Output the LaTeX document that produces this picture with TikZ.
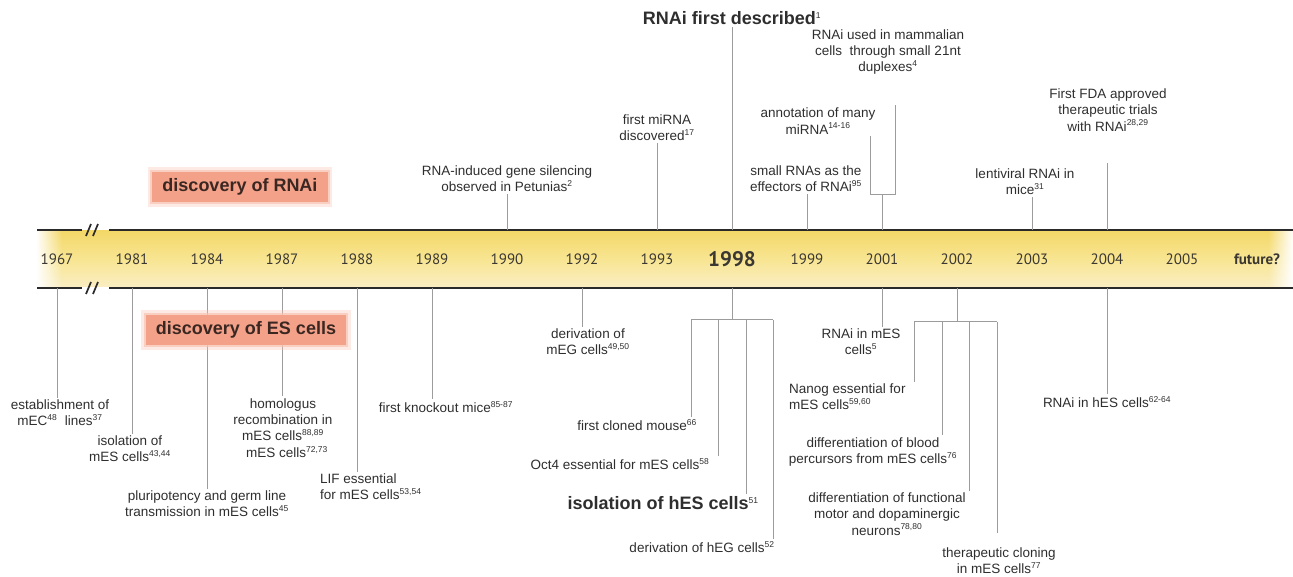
\documentclass[tikz,border=0pt]{standalone}
\usepackage{fontspec}
\setsansfont{Liberation Sans}
\renewcommand{\familydefault}{\sfdefault}
\newfontfamily\yearfam{PT Sans}
\usetikzlibrary{fadings}

\definecolor{evtext}{HTML}{2E2E2E}
\definecolor{yeartext}{HTML}{3B3833}
\definecolor{twig}{HTML}{9C9C9C}
\definecolor{rail}{HTML}{2A2A2A}
\definecolor{bandtop}{HTML}{F3D868}
\definecolor{bandmid}{HTML}{F8E592}
\definecolor{bandbot}{HTML}{FAEEC2}
\definecolor{glowcore}{HTML}{F3A189}
\definecolor{glowedge}{HTML}{F8C4B3}
\definecolor{glowtext}{HTML}{3A2722}

% small reference numbers
\newcommand{\refs}[1]{\textsuperscript{\mdseries\fontsize{8.5}{9}\selectfont #1}}

\tikzfading[name=fadeout right, left color=transparent!0, right color=transparent!100]
\tikzfading[name=fadeout left, left color=transparent!100, right color=transparent!0]

\tikzset{
  event/.style    = {font=\fontsize{13.5}{16.3}\selectfont, text=evtext,
                     align=center, inner sep=2pt},
  headline/.style = {font=\fontsize{18}{21}\selectfont\bfseries, text=evtext,
                     inner sep=2pt},
  year/.style     = {font=\yearfam\fontsize{15}{18}\selectfont, text=yeartext},
  bigyear/.style  = {font=\yearfam\fontsize{21}{24}\selectfont\bfseries,
                     text=yeartext},
  twig/.style     = {draw=twig, line width=1pt},
  rail/.style     = {draw=rail, line width=1.7pt},
  glowbox/.style  = {headline, text=glowtext, fill=glowcore,
                     inner xsep=10pt, inner ysep=7pt,
                     preaction={draw=glowedge, line width=9pt, opacity=.35},
                     preaction={draw=glowedge, line width=4pt, opacity=.7}}
}

\begin{document}
\begin{tikzpicture}[x=1pt,y=-1pt]
\useasboundingbox (0,0) rectangle (1293,577);

% the yellow band with its two rails
\shade[top color=bandtop, bottom color=bandbot, middle color=bandmid]
  (37,231) rectangle (1293,287);
\fill[white, path fading=fadeout right] (36,231) rectangle (62,287);
\fill[white, path fading=fadeout left] (1268,231) rectangle (1293,287);
\draw[rail] (37,230) -- (82,230);
\draw[rail] (109,230) -- (1293,230);
\draw[rail] (37,288) -- (82,288);
\draw[rail] (109,288) -- (1293,288);
\draw[rail] (86,236) -- (91,224) (93,236) -- (98,224);
\draw[rail] (86,294) -- (91,282) (93,294) -- (98,282);

% years, with a coordinate on each rail
\foreach \yr [count=\i from 0] in {1967,1981,1984,1987,1988,1989,1990,1992,
                                    1993,1998,1999,2001,2002,2003,2004,2005} {
  \coordinate (top\yr) at (57+75*\i,230);
  \coordinate (bot\yr) at (57+75*\i,288);
  \ifnum\yr=1998
    \node[bigyear] (y\yr) at (57+75*\i,259) {\yr};
  \else
    \node[year] (y\yr) at (57+75*\i,259) {\yr};
  \fi
}
\node[year, font=\yearfam\fontsize{15}{18}\selectfont\bfseries] (yfut) at (1257,259) {future?};

% RNAi events above the band
\node[event] (ev1990) at (507,179) {RNA-induced gene silencing\\observed in Petunias\refs{2}};
\node[event] (ev1993) at (657,128) {first miRNA\\discovered\refs{17}};
\node[headline] (ev1998) at (732,18) {RNAi first described\refs{1}};
\node[event] (ev1999) at (806,179) {small RNAs as the\\effectors of RNAi\refs{95}};
\node[event] (ev2001a) at (818,121) {annotation of many\\miRNA\refs{14-16}};
\node[event] (ev2001b) at (888,52) {RNAi used in mammalian\\cells\ \ through small 21nt\\duplexes\refs{4}};
\node[event] (ev2003) at (1025,182) {lentiviral RNAi in\\mice\refs{31}};
\node[event] (ev2004) at (1108,110) {First FDA approved\\therapeutic trials\\with RNAi\refs{28,29}};

\draw[twig] (top1990) -- (top1990 |- ev1990.south);
\draw[twig] (top1993) -- (top1993 |- ev1993.south);
\draw[twig] (top1998) -- (top1998 |- ev1998.south);
\draw[twig] (top1999) -- (top1999 |- ev1999.south);
\draw[twig] (top2003) -- (top2003 |- ev2003.south);
\coordinate (e2004) at (1107,163);
\draw[twig] (top2004) -- (e2004);

% 2001 fork
\coordinate (k2001)  at (882,195);
\coordinate (k2001l) at (870,195);
\coordinate (k2001r) at (895,195);
\coordinate (e2001r) at (895,105);
\draw[twig] (top2001) -- (k2001);
\draw[twig] (k2001l |- ev2001a.south) -- (k2001l) -- (k2001r) -- (e2001r);

% ES cell events below the band
\node[event] (ev1967) at (60,413) {establishment of\\mEC\refs{48}\ \ lines\refs{37}};
\node[event] (ev1981) at (130,449) {isolation of\\mES cells\refs{43,44}};
\node[event] (ev1984) at (207,504) {pluripotency and germ line\\transmission in mES cells\refs{45}};
\node[event] (ev1987) at (283,428) {homologus\\recombination in\\mES cells\refs{88,89}\\\hspace*{8pt}mES cells\refs{72,73}};
\node[event, align=left, anchor=west] (ev1988) at (318,487) {LIF essential\\for mES cells\refs{53,54}};
\node[event] (ev1989) at (446,407) {first knockout mice\refs{85-87}};
\node[event] (ev1992) at (588,342) {derivation of\\mEG cells\refs{49,50}};
\node[event] (ev1998a) at (637,425) {first cloned mouse\refs{66}};
\node[event] (ev1998b) at (620,464) {Oct4 essential for mES cells\refs{58}};
\node[headline] (ev1998c) at (663,503) {isolation of hES cells\refs{51}};
\node[event] (ev1998d) at (702,547) {derivation of hEG cells\refs{52}};
\node[event] (ev2001) at (861,342) {RNAi in mES\\cells\refs{5}};
\node[event, align=left, anchor=west] (ev2002a) at (787,397) {Nanog essential for\\mES cells\refs{59,60}};
\node[event] (ev2002b) at (873,452) {differentiation of blood\\percursors from mES cells\refs{76}};
\node[event] (ev2002c) at (887,514) {differentiation of functional\\motor and dopaminergic\\neurons\refs{78,80}};
\node[event] (ev2002d) at (999,561) {therapeutic cloning\\in mES cells\refs{77}};
\node[event] (ev2004b) at (1107,402) {RNAi in hES cells\refs{62-64}};

\draw[twig] (bot1967) -- (bot1967 |- ev1967.north);
\draw[twig] (bot1981) -- (bot1981 |- ev1981.north);
\draw[twig] (bot1984) -- (bot1984 |- ev1984.north);
\draw[twig] (bot1987) -- (bot1987 |- ev1987.north);
\draw[twig] (bot1988) -- (bot1988 |- ev1988.north);
\draw[twig] (bot1989) -- (bot1989 |- ev1989.north);
\draw[twig] (bot1992) -- (bot1992 |- ev1992.north);
\draw[twig] (bot2001) -- (bot2001 |- ev2001.north);
\draw[twig] (bot2004) -- (bot2004 |- ev2004b.north);

% 1998 fork
\coordinate (k1998) at (732,320);
\foreach \n/\xx in {a/691,b/718,c/746,d/773}
  \coordinate (k1998\n) at (\xx,320);
\draw[twig] (bot1998) -- (k1998);
\draw[twig] (k1998a) -- (k1998d);
\draw[twig] (k1998a) -- (k1998a |- ev1998a.north);
\draw[twig] (k1998b) -- (k1998b |- ev1998b.north);
\draw[twig] (k1998c) -- (k1998c |- ev1998c.north);
\draw[twig] (k1998d) -- (k1998d |- ev1998d.north);

% 2002 fork
\coordinate (k2002) at (957,322);
\foreach \n/\xx in {a/914,b/942,c/969,d/997}
  \coordinate (k2002\n) at (\xx,322);
\coordinate (e2002d) at (997,533);
\draw[twig] (bot2002) -- (k2002);
\draw[twig] (k2002a) -- (k2002d);
\draw[twig] (k2002a) -- (k2002a |- ev2002a.north);
\draw[twig] (k2002b) -- (k2002b |- ev2002b.north);
\draw[twig] (k2002c) -- (k2002c |- ev2002c.north);
\draw[twig] (k2002d) -- (e2002d);

% the two glowing titles
\node[glowbox] (rnai) at (240,187) {discovery of RNAi};
\node[glowbox] (escells) at (246,330) {discovery of ES cells};
\end{tikzpicture}
\end{document}
